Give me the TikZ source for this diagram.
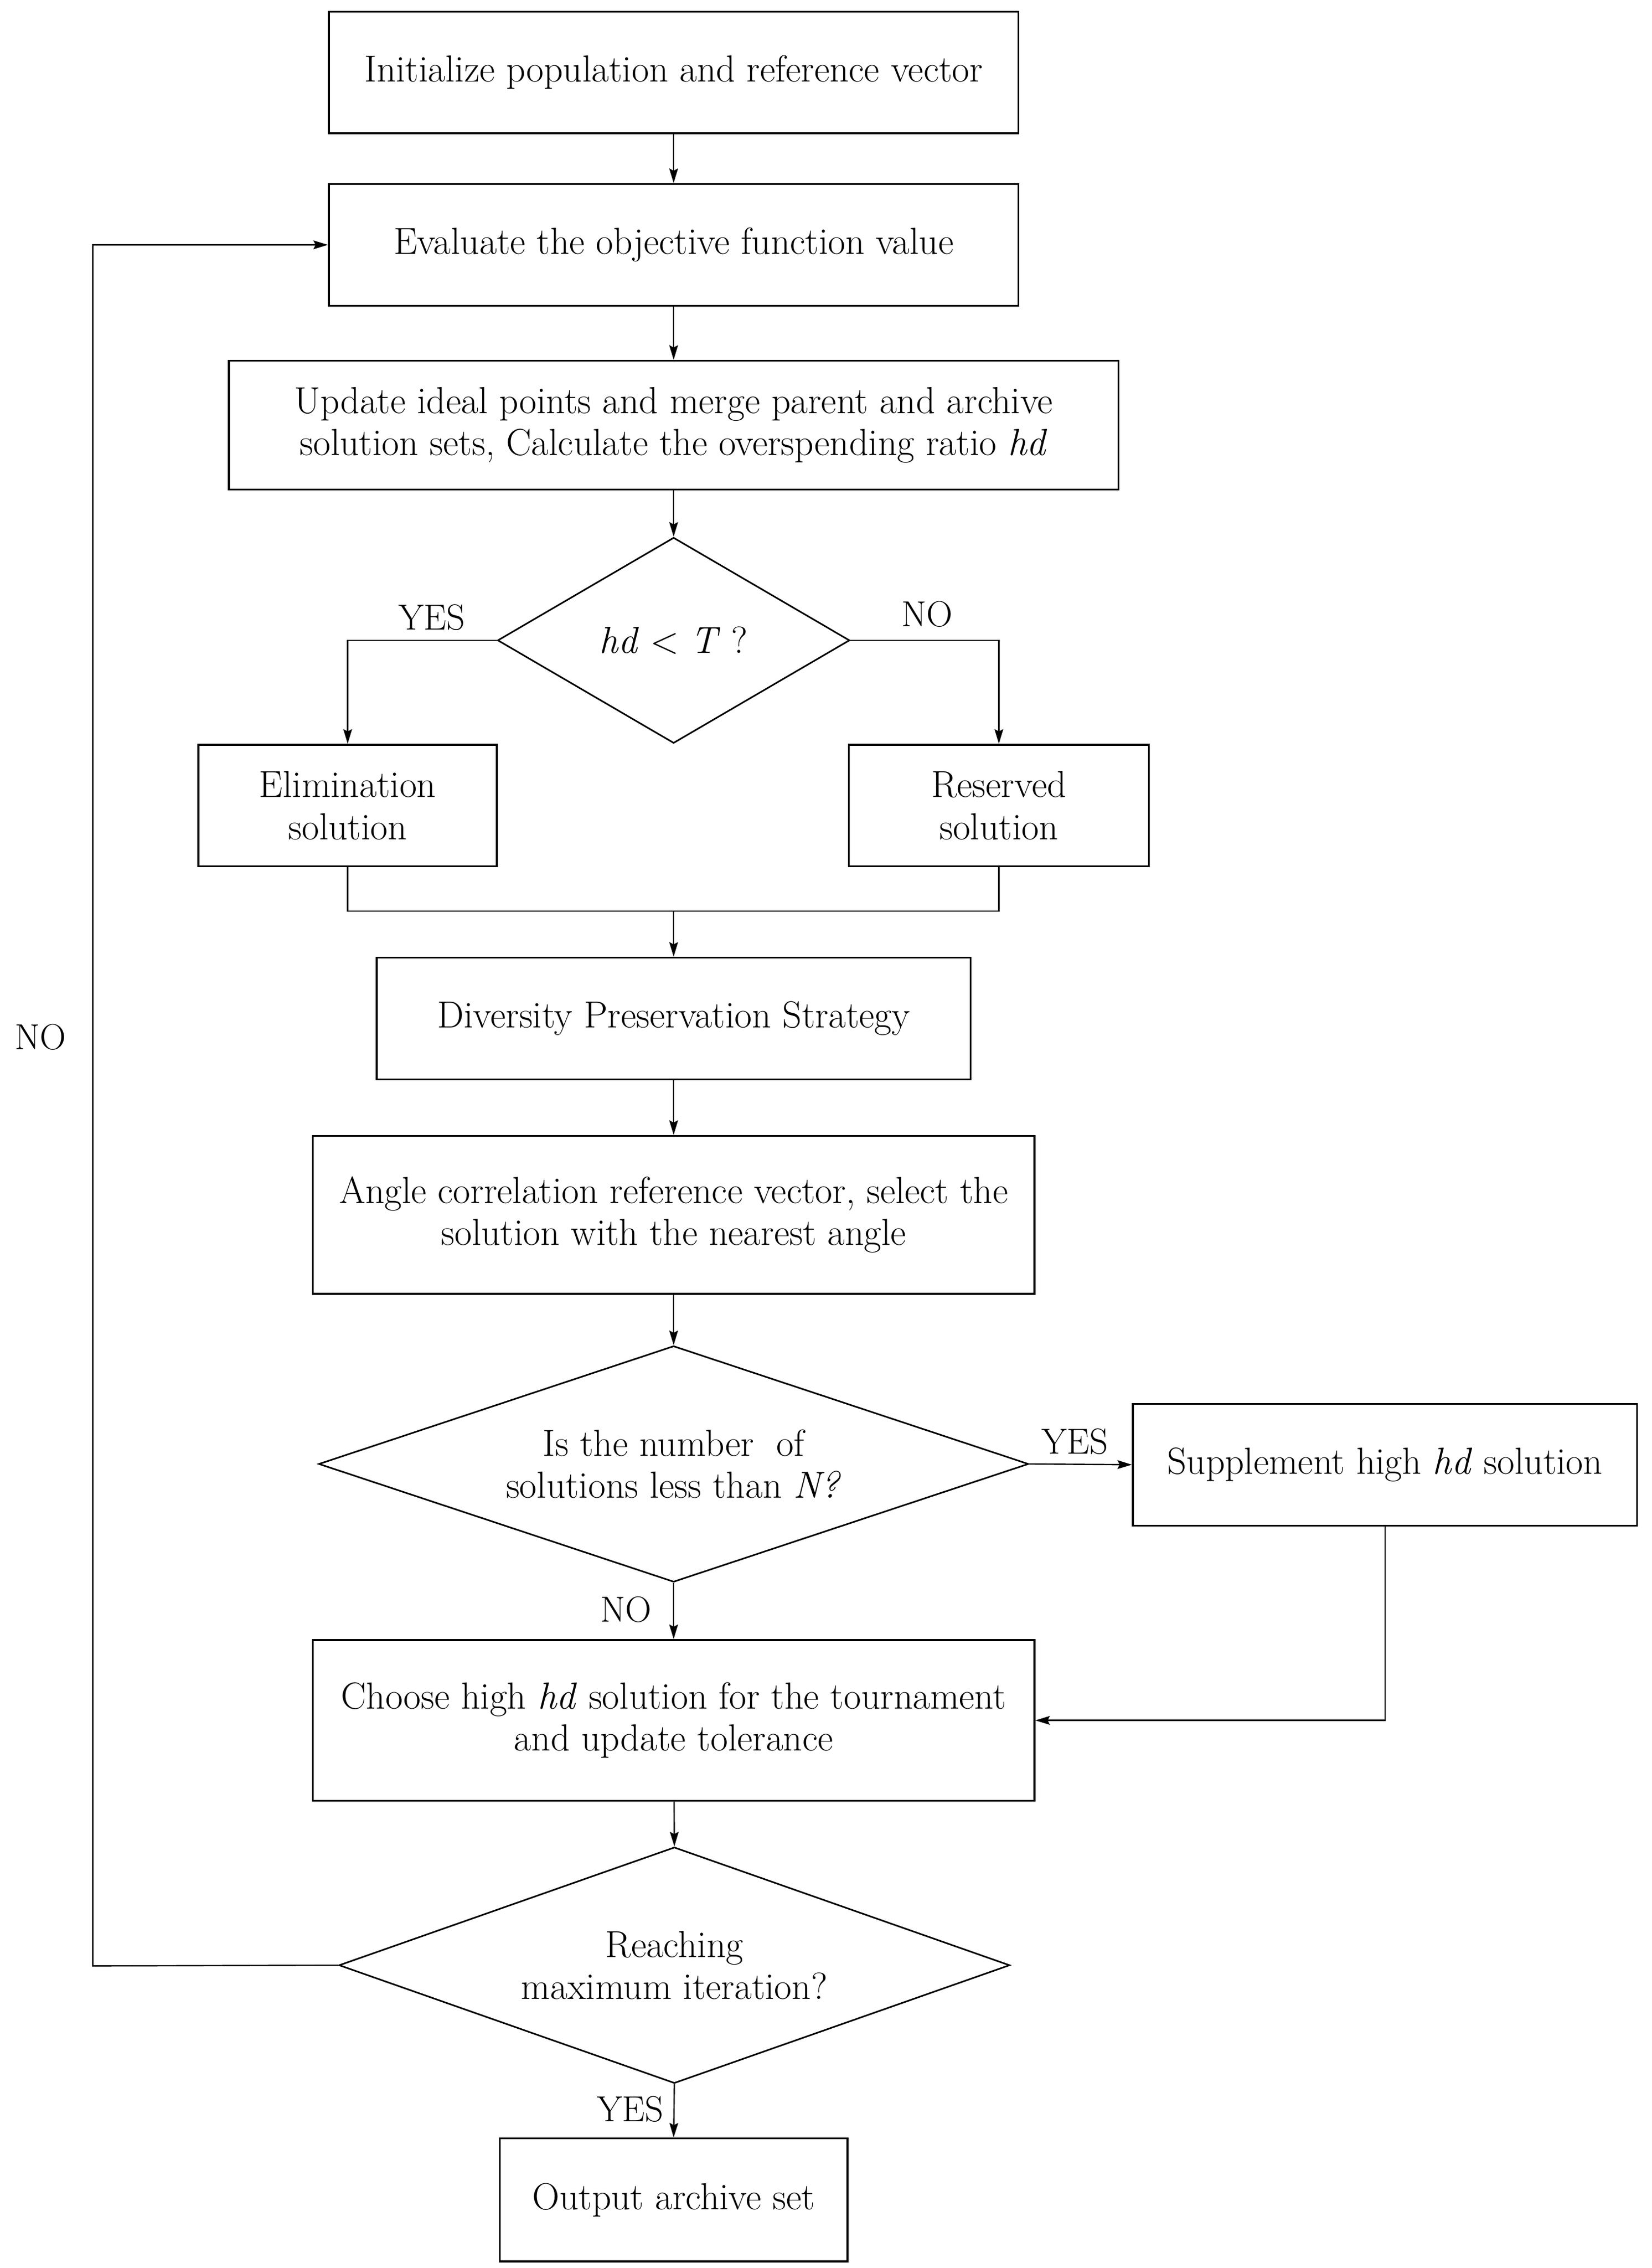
\documentclass[tikz,border=0pt]{standalone}
\usepackage{fontspec}
\usetikzlibrary{shapes.geometric,arrows.meta,calc}
\begin{document}
\begin{tikzpicture}[x=1pt,y=-1pt,
  every node/.style={font=\fontsize{26}{29}\selectfont},
  box/.style={draw,line width=1.3pt,rectangle,inner sep=0pt,align=center},
  dia/.style={draw,line width=1.1pt,diamond,inner sep=0pt,align=center},
  lbl/.style={inner sep=0pt,font=\fontsize{25}{29}\selectfont},
  conn/.style={line width=0.9pt},
  arr/.style={conn,-{Stealth[length=10pt,width=6pt,inset=1.5pt]}}
]
\useasboundingbox (0,0) rectangle (1140,1565.5);
% boxes
\node[box,minimum width=476pt,minimum height=84pt] (b1) at (465,50) {Initialize population and reference vector};
\node[box,minimum width=476pt,minimum height=84pt] (b2) at (465,169) {Evaluate the objective function value};
\node[box,minimum width=614pt,minimum height=89pt] (b3) at (465,293.5) {Update ideal points and merge parent and archive\\solution sets, Calculate the overspending ratio \textit{hd}};
\node[dia,minimum width=243pt,minimum height=142pt,aspect=1.71] (d1) at (465,442) {\textit{hd} < \textit{T} ?};
\node[box,minimum width=206pt,minimum height=84pt] (e1) at (240,556) {Elimination\\solution};
\node[box,minimum width=207pt,minimum height=84pt] (r1) at (689.5,556) {Reserved\\solution};
\coordinate (join) at (465,629);
\node[box,minimum width=410pt,minimum height=84pt] (dv) at (465,703) {Diversity Preservation Strategy};
\node[box,minimum width=498pt,minimum height=109pt] (ang) at (465,838.5) {Angle correlation reference vector, select the\\solution with the nearest angle};
\node[dia,minimum width=490pt,minimum height=163pt,aspect=3] (d2) at (465,1010.5) {Is the number~ of\\solutions less than \textit{N?}};
\node[box,minimum width=348pt,minimum height=84pt] (sup) at (956,1011) {Supplement high \textit{hd} solution};
\node[box,minimum width=498pt,minimum height=111pt] (ch) at (465,1187.5) {Choose high \textit{hd} solution for the tournament\\and update tolerance};
\node[dia,minimum width=463pt,minimum height=163pt,aspect=2.84] (d3) at (465.5,1356.5) {Reaching\\maximum iteration?};
\node[box,minimum width=240pt,minimum height=85pt] (out) at (465,1518.5) {Output archive set};
\coordinate (loop) at (64,1357);
% labels
\node[lbl] (ly1) at (298,426) {YES};
\node[lbl] (ln1) at (640,424) {NO};
\node[lbl] (ln0) at (28,716) {NO};
\node[lbl] (ly2) at (742,995) {YES};
\node[lbl] (ln2) at (432,1111) {NO};
\node[lbl] (ly3) at (435,1456) {YES};
% connectors
\draw[arr] (b1) -- (b2);
\draw[arr] (b2) -- (b3);
\draw[arr] (b3) -- (d1);
\draw[arr] (d1.west) -| (e1.north);
\draw[arr] (d1.east) -| (r1.north);
\draw[conn] (e1.south) |- (join) -| (r1.south);
\draw[arr] (join) -- (dv.north);
\draw[arr] (dv) -- (ang);
\draw[arr] (ang) -- (d2.north);
\draw[arr] (d2.east) -- (sup.west);
\draw[arr] (sup.south) |- (ch.east);
\draw[arr] (d2.south) -- (ch.north);
\draw[arr] (ch) -- (d3.north);
\draw[arr] (d3.west) -- (loop) |- (b2.west);
\draw[arr] (d3.south) -- (out.north);
\end{tikzpicture}
\end{document}
